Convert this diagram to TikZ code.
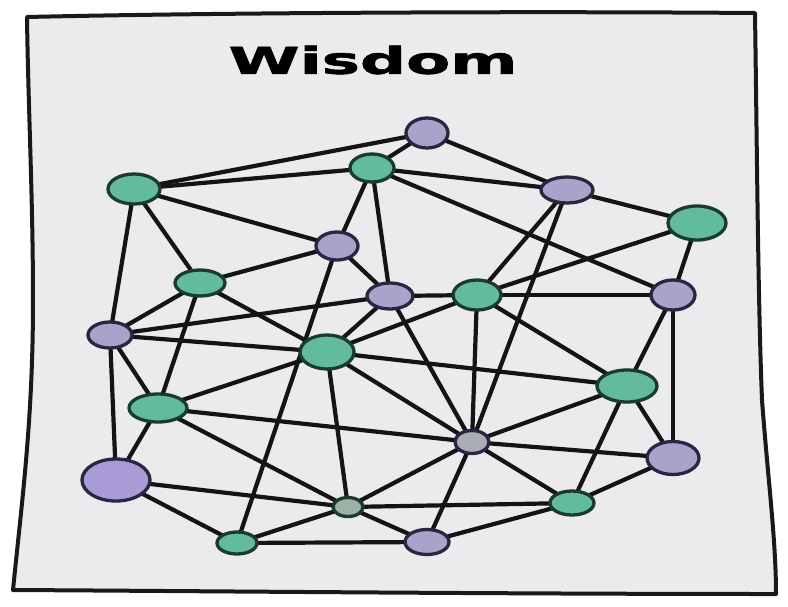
\documentclass[tikz,border=0pt]{standalone}
\usepackage{fontspec}
\usepackage{graphicx}
\newfontfamily\titlefont[FakeBold=1.5]{DejaVu Sans Bold}
\usetikzlibrary{shapes.geometric}
\pgfdeclarelayer{panel}
\pgfdeclarelayer{edges}
\pgfsetlayers{panel,edges,main}
\definecolor{panelgrey}{HTML}{EBEBEE}
\definecolor{gfill}{HTML}{62BB9E}
\definecolor{gline}{HTML}{1B3A30}
\definecolor{pfill}{HTML}{A9A3C9}
\definecolor{pline}{HTML}{2A2642}
\definecolor{qfill}{HTML}{A99BD6}
\definecolor{ofill}{HTML}{A9ADB4}
\definecolor{sfill}{HTML}{9DB1A6}
\tikzset{
  dot/.style={ellipse, inner sep=0pt, line width=3.3pt},
  gdot/.style={dot, fill=gfill, draw=gline},
  pdot/.style={dot, fill=pfill, draw=pline},
  link/.style={line width=4.2pt, black!92, line cap=round},
  frame/.style={line width=4pt, black!90, line join=round, line cap=round}
}
\begin{document}
\begin{tikzpicture}[x=1pt,y=-1pt]
\useasboundingbox (0,0) rectangle (788,606);
\begin{pgfonlayer}{panel}
\fill[white] (0,0) rectangle (788,606);
\filldraw[frame, fill=panelgrey]
  (27,17) .. controls (200,13) and (500,11) .. (755,13)
  .. controls (757,150) and (758,300) .. (762,400)
  .. controls (768,480) and (776,540) .. (776,594)
  .. controls (500,594) and (200,591) .. (13,590)
  .. controls (22,500) and (33,420) .. (33,300)
  .. controls (33,200) and (28,100) .. cycle;
\end{pgfonlayer}
\node (title) at (373,60) {\scalebox{1.74}[1]{\titlefont\fontsize{37}{37}\selectfont Wisdom}};
% nodes
\node[pdot, minimum width=42pt, minimum height=30pt] (A) at (427,133) {};
\node[gdot, minimum width=44pt, minimum height=28pt] (B) at (372,168) {};
\node[gdot, minimum width=52pt, minimum height=30pt] (C) at (134,189) {};
\node[pdot, minimum width=52pt, minimum height=26pt] (D) at (567,190) {};
\node[gdot, minimum width=58pt, minimum height=34pt] (E) at (697,223) {};
\node[pdot, minimum width=42pt, minimum height=28pt] (F) at (337,246) {};
\node[gdot, minimum width=50pt, minimum height=26pt] (G) at (200,283) {};
\node[pdot, minimum width=46pt, minimum height=26pt] (H) at (390,296) {};
\node[gdot, minimum width=48pt, minimum height=30pt] (I) at (477,295) {};
\node[pdot, minimum width=44pt, minimum height=30pt] (J) at (673,295) {};
\node[pdot, minimum width=44pt, minimum height=26pt] (K) at (110,335) {};
\node[gdot, minimum width=54pt, minimum height=34pt] (L) at (327,352) {};
\node[gdot, minimum width=60pt, minimum height=32pt] (M) at (627,386) {};
\node[gdot, minimum width=58pt, minimum height=28pt] (N) at (158,408) {};
\node[dot, fill=ofill, draw=pline, minimum width=34pt, minimum height=23pt] (O) at (472,442) {};
\node[pdot, minimum width=52pt, minimum height=33pt] (P) at (673,458) {};
\node[dot, fill=qfill, draw=pline, minimum width=68pt, minimum height=42pt] (Q) at (116,480) {};
\node[gdot, minimum width=44pt, minimum height=24pt] (R) at (572,503) {};
\node[dot, fill=sfill, draw=gline, minimum width=30pt, minimum height=19pt] (S) at (348,507) {};
\node[gdot, minimum width=40pt, minimum height=22pt] (T) at (237,543) {};
\node[pdot, minimum width=44pt, minimum height=25pt] (U) at (427,542) {};
% edges
\begin{pgfonlayer}{edges}
\foreach \a/\b in {A/B,A/C,A/D,B/C,B/D,B/F,B/H,B/J,C/F,C/G,C/K,D/E,D/I,D/O,E/I,E/J,
  F/G,F/H,F/T,G/K,G/L,G/N,H/I,H/K,H/L,H/O,I/J,I/L,I/M,I/O,J/M,J/P,K/L,K/N,K/Q,
  L/M,L/N,L/O,L/S,M/O,M/P,M/R,N/O,N/Q,N/S,O/P,O/R,O/S,O/U,P/R,Q/S,Q/T,R/S,R/U,S/T,S/U,T/U}
  \draw[link] (\a.center) -- (\b.center);
\end{pgfonlayer}
\end{tikzpicture}
\end{document}
